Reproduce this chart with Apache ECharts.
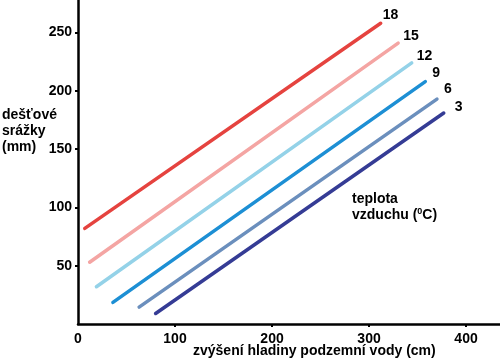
<!DOCTYPE html>
<html><head><meta charset="utf-8">
<script src="https://cdn.jsdelivr.net/npm/echarts@6/dist/echarts.min.js"></script>
<style>html,body{margin:0;padding:0;background:#fff}#c{width:500px;height:360px}</style>
</head><body><div id="c"></div>
<script>
const temps = ['18','15','12','9','6','3'];
const startX = [7, 12, 19, 36, 63, 80];
const startY = [82, 53, 32, 18.5, 14.5, 9];
const endX = [312, 330, 344, 358, 370, 377];
const endY = [258, 241, 224, 208, 193, 181];
const colors = ['#e5433f', '#f4a5a3', '#94d2e8', '#1d8fd4', '#6b8fbd', '#353c95'];
const labelOffsets = [[2,-8],[5,-7],[5,-7],[7,-8],[7,-10],[11,-6]];
const xTicks = [0, 100, 200, 300, 400];
const yTicks = [50, 100, 150, 200, 250];

const font = 'Liberation Sans, Arial, sans-serif';
const chart = echarts.init(document.getElementById('c'));
chart.setOption({
  animation: false,
  grid: {left: 78, top: 0, right: 0, bottom: 36},
  xAxis: {
    type: 'value', min: 0, max: 435,
    splitLine: {show: false},
    axisLine: {lineStyle: {color: '#000', width: 2.5}},
    axisTick: {customValues: xTicks.slice(1), length: 3, lineStyle: {color: '#000', width: 2}},
    axisLabel: {customValues: xTicks, color: '#000', fontWeight: 'bold', fontSize: 14, fontFamily: font, margin: 8}
  },
  yAxis: {
    type: 'value', min: 0, max: 278,
    splitLine: {show: false},
    axisLine: {lineStyle: {color: '#000', width: 2.5}},
    axisTick: {customValues: yTicks, length: 3, lineStyle: {color: '#000', width: 2}},
    axisLabel: {customValues: yTicks, color: '#000', fontWeight: 'bold', fontSize: 14, fontFamily: font, margin: 6}
  },
  series: temps.map((t, i) => ({
    type: 'line', name: t,
    data: [[startX[i], startY[i]], [endX[i], endY[i]]],
    symbol: 'none',
    lineStyle: {color: colors[i], width: 3.5, cap: 'round'},
    endLabel: {show: true, formatter: '{a}', distance: 0, offset: labelOffsets[i],
      color: '#000', fontWeight: 'bold', fontSize: 14, fontFamily: font}
  })),
  graphic: [
    {type: 'text', left: 2, top: 107, style: {text: 'dešťové\nsrážky\n(mm)', font: 'bold 14px ' + font, fill: '#000', lineHeight: 16}},
    {type: 'text', left: 193, top: 344, style: {text: 'zvýšení hladiny podzemní vody (cm)', font: 'bold 14px ' + font, fill: '#000'}},
    {type: 'text', left: 352, top: 192, style: {
      text: '{n|teplota}\n{n|vzduchu (}{s|0}{n|C)}',
      rich: {
        n: {fontSize: 14, fontFamily: font, fill: '#000', fontWeight: 'bold', lineHeight: 16, color: '#000'},
        s: {fontSize: 9, fontFamily: font, fontWeight: 'bold', color: '#000', lineHeight: 16, padding: [0,0,7,0]}
      }
    }}
  ]
});
</script></body></html>
